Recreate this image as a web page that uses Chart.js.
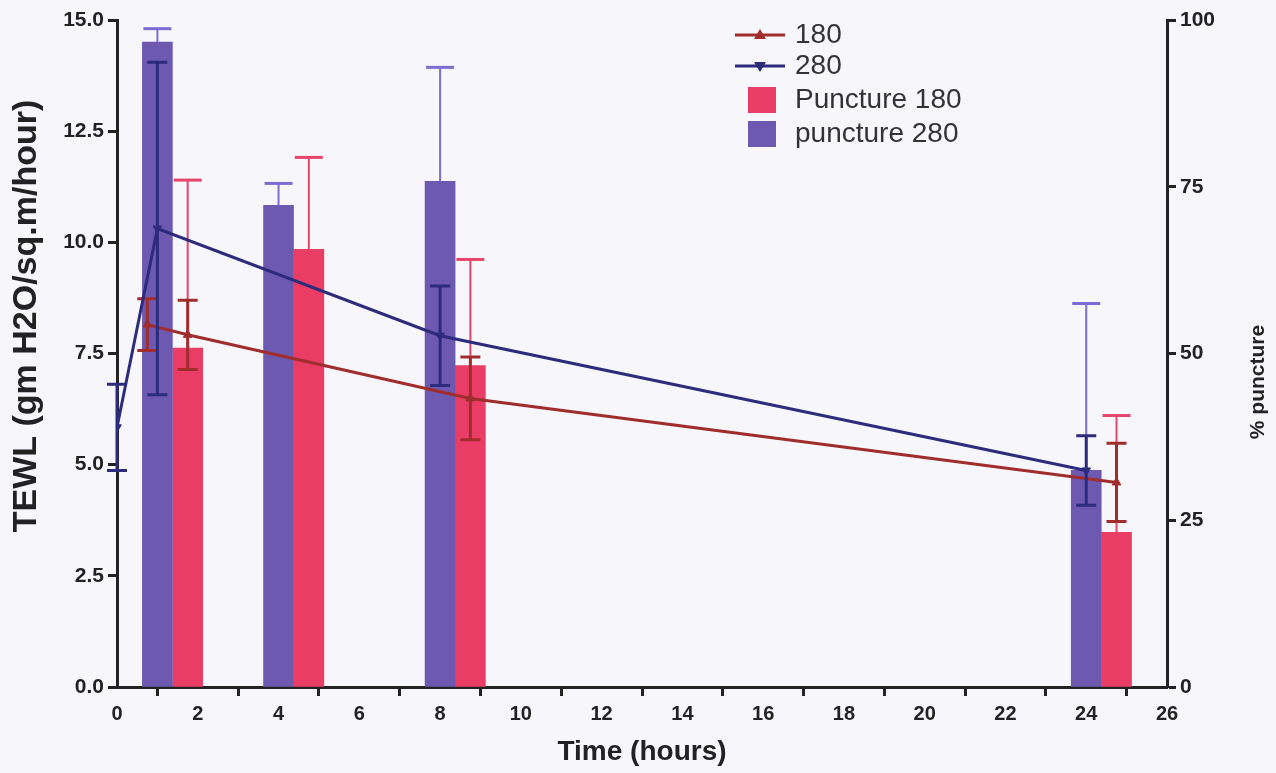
<!DOCTYPE html>
<html>
<head>
<meta charset="utf-8">
<script src="https://cdn.jsdelivr.net/npm/chart.js@4.4.1/dist/chart.umd.min.js"></script>
<style>
  html, body { margin: 0; padding: 0; background: #f6f6fb; }
  #wrap { width: 1276px; height: 773px; }
</style>
</head>
<body>
<div id="wrap"><canvas id="c" width="1276" height="773"></canvas></div>
<script>
// ---- data ----
const xTicks = [0, 2, 4, 6, 8, 10, 12, 14, 16, 18, 20, 22, 24, 26];
const leftTicks = [0, 2.5, 5, 7.5, 10, 12.5, 15];
const rightTicks = [0, 25, 50, 75, 100];

const times180 = [0.75, 1.75, 8.75, 24.75];
const tewl180 = [8.15, 7.92, 6.49, 4.6];
const tewl180Err = [0.58, 0.78, 0.93, 0.88];

const times280 = [0, 1, 8, 24];
const tewl280 = [5.84, 10.31, 7.9, 4.87];
const tewl280Err = [0.97, 3.74, 1.12, 0.78];

const timesBar180 = [1.75, 4.75, 8.75, 24.75];
const puncture180 = [50.8, 65.6, 48.2, 23.2];
const puncture180Err = [25.2, 13.8, 15.9, 17.5];

const timesBar280 = [1, 4, 8, 24];
const puncture280 = [96.7, 72.2, 75.8, 32.5];
const puncture280Err = [2.0, 3.3, 17.1, 25.0];

const labels = ['180', '280', 'Puncture 180', 'puncture 280'];

// ---- styles ----
const C180 = '#a02c2c';
const C280 = '#2c2b7c';
const CBAR180 = '#ea3d66';
const CBAR280 = '#6d59b0';
const CERR180 = '#e8456c';
const CERR280 = '#7c6cd4';
const AXIS = '#222222';
const FONT = "'Liberation Sans', Arial, sans-serif";

const zip = (xs, ys) => xs.map((x, i) => ({ x: x, y: ys[i] }));

const errPlugin = {
  id: 'errbars',
  afterDatasetDraw(chart, args) {
    const ds = chart.data.datasets[args.index];
    if (!ds.errors) return;
    const yScale = chart.scales[ds.yAxisID];
    const ctx = chart.ctx;
    ctx.save();
    ctx.strokeStyle = ds.errColor;
    args.meta.data.forEach((el, i) => {
      const v = ds.data[i].y, e = ds.errors[i];
      const x = el.x;
      const yTop = yScale.getPixelForValue(v + e);
      const yBot = yScale.getPixelForValue(ds.oneSided ? v : v - e);
      ctx.lineWidth = ds.errWidth;
      ctx.beginPath();
      ctx.moveTo(x, yBot); ctx.lineTo(x, yTop);
      ctx.stroke();
      ctx.lineWidth = ds.capWidth;
      const hw = ds.capHalf;
      ctx.beginPath();
      ctx.moveTo(x - hw, yTop); ctx.lineTo(x + hw, yTop);
      if (!ds.oneSided) { ctx.moveTo(x - hw, yBot); ctx.lineTo(x + hw, yBot); }
      ctx.stroke();
    });
    ctx.restore();
  }
};

const bgPlugin = {
  id: 'bg',
  beforeDraw(chart) {
    const ctx = chart.ctx;
    ctx.save();
    ctx.fillStyle = '#f6f6fb';
    ctx.fillRect(0, 0, chart.width, chart.height);
    ctx.restore();
  }
};

const decoPlugin = {
  id: 'deco',
  afterDraw(chart) {
    const ctx = chart.ctx;
    ctx.save();
    // axis titles (left and right read bottom-to-top)
    ctx.fillStyle = AXIS;
    ctx.textAlign = 'center';
    ctx.textBaseline = 'middle';
    ctx.font = 'bold 34px ' + FONT;
    ctx.translate(27, 316);
    ctx.rotate(-Math.PI / 2);
    ctx.fillText('TEWL (gm H2O/sq.m/hour)', 0, 0);
    ctx.restore();
    ctx.save();
    ctx.fillStyle = AXIS;
    ctx.textAlign = 'center';
    ctx.textBaseline = 'middle';
    ctx.font = 'bold 21px ' + FONT;
    ctx.translate(1258, 382);
    ctx.rotate(-Math.PI / 2);
    ctx.fillText('% puncture', 0, 0);
    ctx.restore();

    // legend
    ctx.save();
    const lx = 735, tx = 795;
    const rows = [35, 66, 100, 134];
    ctx.font = '28px ' + FONT;
    ctx.textAlign = 'left';
    ctx.textBaseline = 'middle';
    ctx.strokeStyle = C180; ctx.lineWidth = 3;
    ctx.beginPath(); ctx.moveTo(lx, rows[0]); ctx.lineTo(lx + 50, rows[0]); ctx.stroke();
    ctx.fillStyle = C180;
    ctx.beginPath(); ctx.moveTo(lx + 25, rows[0] - 6); ctx.lineTo(lx + 31, rows[0] + 4); ctx.lineTo(lx + 19, rows[0] + 4); ctx.closePath(); ctx.fill();
    ctx.strokeStyle = C280;
    ctx.beginPath(); ctx.moveTo(lx, rows[1]); ctx.lineTo(lx + 50, rows[1]); ctx.stroke();
    ctx.fillStyle = C280;
    ctx.beginPath(); ctx.moveTo(lx + 25, rows[1] + 6); ctx.lineTo(lx + 31, rows[1] - 4); ctx.lineTo(lx + 19, rows[1] - 4); ctx.closePath(); ctx.fill();
    ctx.fillStyle = CBAR180; ctx.fillRect(lx + 13, rows[2] - 13, 28, 26);
    ctx.fillStyle = CBAR280; ctx.fillRect(lx + 13, rows[3] - 13, 28, 26);
    ctx.fillStyle = '#333';
    labels.forEach((t, i) => ctx.fillText(t, tx, rows[i]));
    ctx.restore();
  }
};

new Chart(document.getElementById('c'), {
  type: 'bar',
  data: {
    datasets: [
      {
        type: 'line', label: labels[0], data: zip(times180, tewl180), yAxisID: 'y',
        borderColor: C180, backgroundColor: C180, borderWidth: 3,
        pointStyle: 'triangle', pointRadius: 5, pointBorderWidth: 1,
        tension: 0, order: 1,
        errors: tewl180Err, errColor: C180, errWidth: 3, capWidth: 3, capHalf: 10, oneSided: false
      },
      {
        type: 'line', label: labels[1], data: zip(times280, tewl280), yAxisID: 'y',
        borderColor: C280, backgroundColor: C280, borderWidth: 3,
        pointStyle: 'triangle', pointRotation: 180, pointRadius: 5, pointBorderWidth: 1,
        tension: 0, order: 0,
        errors: tewl280Err, errColor: C280, errWidth: 3, capWidth: 3, capHalf: 10, oneSided: false
      },
      {
        type: 'bar', label: labels[2], data: zip(timesBar180, puncture180), yAxisID: 'y1',
        backgroundColor: CBAR180, borderWidth: 0, barThickness: 30, grouped: false, order: 3,
        errors: puncture180Err, errColor: CERR180, errWidth: 2, capWidth: 3, capHalf: 14, oneSided: true
      },
      {
        type: 'bar', label: labels[3], data: zip(timesBar280, puncture280), yAxisID: 'y1',
        backgroundColor: CBAR280, borderWidth: 0, barThickness: 30, grouped: false, order: 2,
        errors: puncture280Err, errColor: CERR280, errWidth: 2, capWidth: 3, capHalf: 14, oneSided: true
      }
    ]
  },
  options: {
    responsive: false,
    animation: false,
    layout: { padding: { top: 20, left: 0, right: 0, bottom: 0 } },
    plugins: { legend: { display: false }, tooltip: { enabled: false } },
    scales: {
      x: {
        type: 'linear', min: 0, max: 26, offset: false,
        afterFit: s => { s.height = 86; },
        afterBuildTicks: s => { s.ticks = xTicks.map(v => ({ value: v })); },
        grid: { display: true, drawOnChartArea: false, drawTicks: true, tickLength: 9, tickWidth: 3, tickColor: AXIS },
        border: { display: true, width: 3, color: AXIS },
        ticks: { color: AXIS, padding: 6, font: { family: FONT, size: 20, weight: 'bold' }, maxRotation: 0, autoSkip: false },
        title: { display: true, text: 'Time (hours)', color: AXIS, font: { family: FONT, size: 28, weight: 'bold' }, padding: { top: 0, bottom: 4 } }
      },
      y: {
        type: 'linear', position: 'left', min: 0, max: 15,
        afterFit: s => { s.width = 117; },
        afterBuildTicks: s => { s.ticks = leftTicks.map(v => ({ value: v })); },
        grid: { display: true, drawOnChartArea: false, drawTicks: true, tickLength: 9, tickWidth: 3, tickColor: AXIS },
        border: { display: true, width: 3, color: AXIS },
        ticks: { color: AXIS, padding: 4, font: { family: FONT, size: 21, weight: 'bold' }, callback: v => Number(v).toFixed(1) },
        title: { display: false }
      },
      y1: {
        type: 'linear', position: 'right', min: 0, max: 100,
        afterFit: s => { s.width = 109; },
        afterBuildTicks: s => { s.ticks = rightTicks.map(v => ({ value: v })); },
        grid: { display: true, drawOnChartArea: false, drawTicks: true, tickLength: 9, tickWidth: 3, tickColor: AXIS },
        border: { display: true, width: 3, color: AXIS },
        ticks: { color: AXIS, padding: 4, font: { family: FONT, size: 21, weight: 'bold' } },
        title: { display: false }
      }
    }
  },
  plugins: [bgPlugin, errPlugin, decoPlugin]
});
</script>
</body>
</html>
